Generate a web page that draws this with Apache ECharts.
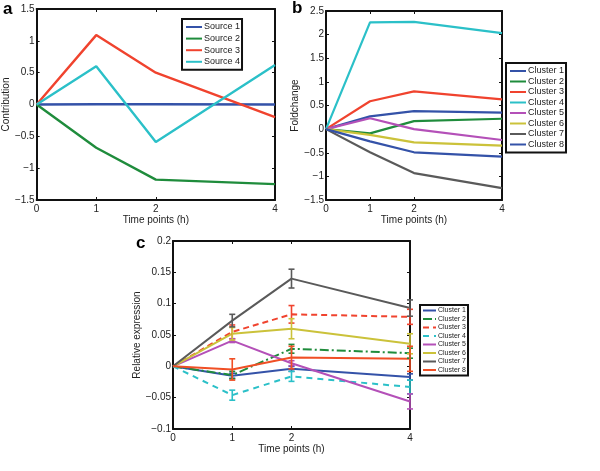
<!DOCTYPE html>
<html><head><meta charset="utf-8">
<script src="https://cdn.jsdelivr.net/npm/echarts@6/dist/echarts.min.js"></script>
<style>html,body{margin:0;padding:0;background:#fff}#c{width:600px;height:471px}</style>
</head><body><div id="c"></div>
<script>
// ---- data ----
const timePoints = [0, 1, 2, 4];
const xTickValues = [0, 1, 2, 4];

const sourceNames = ['Source 1', 'Source 2', 'Source 3', 'Source 4'];
const source1 = [0, 0.005, 0.005, 0.0];
const source2 = [0, -0.68, -1.18, -1.25];
const source3 = [0, 1.09, 0.50, -0.20];
const source4 = [0, 0.60, -0.59, 0.62];

const clusterNames = ['Cluster 1','Cluster 2','Cluster 3','Cluster 4','Cluster 5','Cluster 6','Cluster 7','Cluster 8'];
const foldC1 = [0, 0.27, 0.38, 0.35];
const foldC2 = [0, -0.09, 0.17, 0.22];
const foldC3 = [0, 0.59, 0.80, 0.63];
const foldC4 = [0, 2.26, 2.27, 2.03];
const foldC5 = [0, 0.23, 0.0, -0.23];
const foldC6 = [0, -0.12, -0.28, -0.35];
const foldC7 = [0, -0.49, -0.93, -1.25];
const foldC8 = [0, -0.26, -0.49, -0.58];

const relC1 = [0, -0.015, -0.004, -0.017];
const relC2 = [0, -0.014, 0.028, 0.021];
const relC3 = [0, 0.055, 0.083, 0.079];
const relC4 = [0, -0.046, -0.016, -0.033];
const relC5 = [0, 0.041, 0.005, -0.056];
const relC6 = [0, 0.052, 0.060, 0.036];
const relC7 = [0, 0.073, 0.140, 0.093];
const relC8 = [0, -0.005, 0.014, 0.012];

const errC1 = [0, 0.004, 0.004, 0.005];
const errC2 = [0, 0.006, 0.007, 0.008];
const errC3 = [0, 0.011, 0.014, 0.012];
const errC4 = [0, 0.008, 0.008, 0.011];
const errC5 = [0, 0.003, 0.004, 0.012];
const errC6 = [0, 0.010, 0.016, 0.016];
const errC7 = [0, 0.010, 0.015, 0.013];
const errC8 = [0, 0.017, 0.018, 0.020];

// ---- styling ----
const FONT = 'Liberation Sans';
const BLUE = '#3452a8', GREEN = '#1f8c3c', RED = '#f0432e', CYAN = '#2bc0c8',
      MAG = '#b450b8', YEL = '#cbc23a', GRAY = '#5a5a5a', ORG = '#f04f25';

const sourceColors = [BLUE, GREEN, RED, CYAN];
const sourceData = [source1, source2, source3, source4];
const foldColors = [BLUE, GREEN, RED, CYAN, MAG, YEL, GRAY, BLUE];
const foldData = [foldC1, foldC2, foldC3, foldC4, foldC5, foldC6, foldC7, foldC8];
const relColors = [BLUE, GREEN, RED, CYAN, MAG, YEL, GRAY, ORG];
const relData = [relC1, relC2, relC3, relC4, relC5, relC6, relC7, relC8];
const relErr = [errC1, errC2, errC3, errC4, errC5, errC6, errC7, errC8];
const relTypes = ['solid', [9, 3, 2, 3], [6, 4], [6, 5], 'solid', 'solid', 'solid', 'solid'];

const grids = [
  {left: 33, top: 9, width: 242, height: 191},
  {left: 326, top: 11, width: 176, height: 189},
  {left: 173, top: 241, width: 237, height: 188}
];
const yRanges = [[-1.5, 1.5, 0.5], [-1.5, 2.5, 0.5], [-0.1, 0.2, 0.05]];
const yNames = ['Contribution', 'Foldchange', 'Relative expression'];
const yNameGaps = [17, 18, 21];

const fmtNum = v => String(+v.toFixed(3)).replace('-', '\u2212');

const xAxes = [], yAxes = [];
grids.forEach((g, i) => {
  xAxes.push({
    type: 'value', gridIndex: i, min: 0, max: 4, interval: 1,
    name: 'Time points (h)', nameLocation: 'middle', nameGap: 14,
    nameTextStyle: {fontFamily: FONT, fontSize: 10, color: '#222'},
    axisLine: {show: true, onZero: false, lineStyle: {color: '#111', width: 2}},
    axisTick: {show: true, inside: true, length: 3, customValues: xTickValues, lineStyle: {color: '#111'}},
    axisLabel: {customValues: xTickValues, fontFamily: FONT, fontSize: 10, color: '#222', margin: 4},
    splitLine: {show: false}
  });
  xAxes.push({
    type: 'value', gridIndex: i, position: 'top', min: 0, max: 4, interval: 1,
    axisLine: {show: true, onZero: false, lineStyle: {color: '#111', width: 2}},
    axisTick: {show: true, inside: true, length: 3, customValues: xTickValues, lineStyle: {color: '#111'}},
    axisLabel: {show: false}, splitLine: {show: false}
  });
  const r = yRanges[i];
  yAxes.push({
    type: 'value', gridIndex: i, min: r[0], max: r[1], interval: r[2],
    name: yNames[i], nameLocation: 'middle', nameGap: yNameGaps[i],
    nameTextStyle: {fontFamily: FONT, fontSize: 10, color: '#222'},
    axisLine: {show: true, onZero: false, lineStyle: {color: '#111', width: 2}},
    axisTick: {show: true, inside: true, length: 3, lineStyle: {color: '#111'}},
    axisLabel: {fontFamily: FONT, fontSize: 10, color: '#222', margin: 2, formatter: fmtNum},
    splitLine: {show: false}
  });
  yAxes.push({
    type: 'value', gridIndex: i, position: 'right', min: r[0], max: r[1], interval: r[2],
    axisLine: {show: true, onZero: false, lineStyle: {color: '#111', width: 2}},
    axisTick: {show: true, inside: true, length: 3, lineStyle: {color: '#111'}},
    axisLabel: {show: false}, splitLine: {show: false}
  });
});

const series = [];
const zip = arr => timePoints.map((t, k) => [t, arr[k]]);
sourceNames.forEach((n, k) => series.push({
  type: 'line', name: n, xAxisIndex: 0, yAxisIndex: 0, data: zip(sourceData[k]),
  symbol: 'none', color: sourceColors[k], lineStyle: {width: 2.4, color: sourceColors[k]}, z: 3
}));
clusterNames.forEach((n, k) => series.push({
  type: 'line', name: n, xAxisIndex: 2, yAxisIndex: 2, data: zip(foldData[k]),
  symbol: 'none', color: foldColors[k], lineStyle: {width: 2.2, color: foldColors[k]}, z: 3
}));
clusterNames.forEach((n, k) => {
  series.push({
    type: 'line', name: 'c:' + n, xAxisIndex: 4, yAxisIndex: 4, data: zip(relData[k]),
    symbol: 'none', color: relColors[k], lineStyle: {width: 2, color: relColors[k], type: relTypes[k]}, z: 3
  });
  const eb = [];
  for (let j = 1; j < timePoints.length; j++) {
    eb.push([timePoints[j], relData[k][j] - relErr[k][j], relData[k][j] + relErr[k][j]]);
  }
  series.push({
    type: 'custom', name: 'err' + k, xAxisIndex: 4, yAxisIndex: 4, data: eb, z: 4,
    encode: {x: 0, y: [1, 2]},
    renderItem: function (params, api) {
      const x = api.value(0);
      const p1 = api.coord([x, api.value(1)]);
      const p2 = api.coord([x, api.value(2)]);
      const w = 3;
      const st = {stroke: relColors[k], lineWidth: 1.6};
      return {type: 'group', children: [
        {type: 'line', shape: {x1: p1[0], y1: p1[1], x2: p2[0], y2: p2[1]}, style: st},
        {type: 'line', shape: {x1: p1[0] - w, y1: p1[1], x2: p1[0] + w, y2: p1[1]}, style: st},
        {type: 'line', shape: {x1: p2[0] - w, y1: p2[1], x2: p2[0] + w, y2: p2[1]}, style: st}
      ]};
    }
  });
});

const legendBase = {
  orient: 'vertical', backgroundColor: '#fff', borderColor: '#111', borderWidth: 2,
  borderRadius: 0, selectedMode: false, itemStyle: {opacity: 0}
};
const option = {
  animation: false,
  backgroundColor: '#fff',
  grid: grids.map(g => Object.assign({containLabel: false, show: false}, g)),
  xAxis: xAxes, yAxis: yAxes,
  legend: [
    Object.assign({}, legendBase, {
      data: sourceNames, left: 182, top: 19, itemWidth: 16, itemHeight: 8, itemGap: 1.6,
      padding: [3, 2, 3, 3],
      textStyle: {fontFamily: FONT, fontSize: 9, lineHeight: 10, color: '#222', padding: [0, 0, 0, -3]}
    }),
    Object.assign({}, legendBase, {
      data: clusterNames, left: 506, top: 63, itemWidth: 16, itemHeight: 8, itemGap: 0.5,
      padding: [3, 2, 3, 3],
      textStyle: {fontFamily: FONT, fontSize: 9, lineHeight: 10, color: '#222', padding: [0, 0, 0, -3]}
    }),
    Object.assign({}, legendBase, {
      data: clusterNames.map(n => 'c:' + n), left: 420, top: 305, itemWidth: 13, itemHeight: 6,
      itemGap: 1.5, padding: [2, 2, 2, 2],
      formatter: n => n.slice(2),
      textStyle: {fontFamily: FONT, fontSize: 7, lineHeight: 7, color: '#222', padding: [0, 0, 0, -3]}
    })
  ],
  graphic: [
    {type: 'text', left: 3, top: 1, style: {text: 'a', font: 'bold 17px "Liberation Sans"', fill: '#000'}},
    {type: 'text', left: 292, top: 0, style: {text: 'b', font: 'bold 17px "Liberation Sans"', fill: '#000'}},
    {type: 'text', left: 136, top: 235, style: {text: 'c', font: 'bold 17px "Liberation Sans"', fill: '#000'}}
  ],
  series: series
};
const chart = echarts.init(document.getElementById('c'), null, {renderer: 'canvas'});
chart.setOption(option);
</script>
</body></html>
